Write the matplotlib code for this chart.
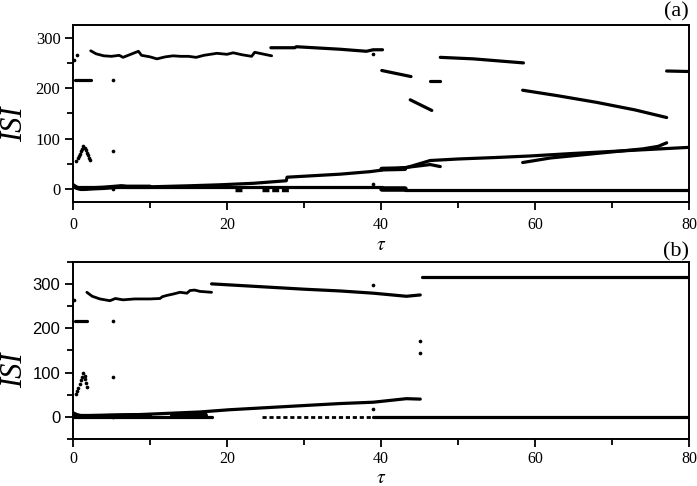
import matplotlib
matplotlib.use("Agg")
import matplotlib.pyplot as plt
from matplotlib.ticker import MultipleLocator

plt.rcParams["mathtext.fontset"] = "stix"

# ---------------- Panel (a) data ----------------
a_top1_tau = [2.3, 3.0, 3.5, 4.0, 5.0, 6.0, 6.5, 7.0, 8.0, 8.5, 8.9, 10.0, 10.9, 12.0, 13.0, 14.0, 15.0, 16.0, 17.0, 18.7, 20.0, 20.8, 22.0, 23.2, 23.6, 25.8]
a_top1_isi = [274, 268, 266, 264, 263, 265, 261, 264, 270, 273, 265, 262, 258, 262, 264, 263, 263, 261, 265, 269, 267, 270, 266, 263, 271, 264]
a_top2_tau = [25.7, 28.8, 29.0, 34.7, 38.1, 39.0, 40.2]
a_top2_isi = [280, 280, 282, 277, 273, 276, 276]
a_s3_tau = [40.1, 43.9]
a_s3_isi = [235, 223]
a_s4_tau = [43.8, 46.6]
a_s4_isi = [177, 156]
a_s5_tau = [46.4, 47.7]
a_s5_isi = [214, 214]
a_s6_tau = [47.7, 52.0, 58.5]
a_s6_isi = [261, 258, 250]
a_s7_tau = [58.4, 63.0, 68.0, 73.0, 77.1]
a_s7_isi = [196, 185, 172, 157, 142]
a_s8_tau = [77.1, 80.0]
a_s8_isi = [234, 233]
a_rise_tau = [2.0, 6.0, 10.0, 15.0, 19.1, 23.5, 27.7, 27.8, 34.7, 38.6, 40.1]
a_rise_isi = [3, 4, 5, 7, 9, 12, 17, 24, 30, 35, 38]
a_band_tau = [40.1, 43.1]
a_band_isi = [40, 41]
a_up_tau = [43.1, 46.4]
a_up_isi = [42, 57]
a_low_tau = [42.0, 46.4, 47.7]
a_low_isi = [41, 49, 45]
a_main_tau = [46.4, 50.0, 55.0, 59.4, 65.0, 70.0, 75.0, 80.0]
a_main_isi = [57, 60, 63, 66, 71, 75, 79, 83]
a_br2_tau = [58.4, 62.0, 66.0, 70.0, 74.0, 76.0, 77.1]
a_br2_isi = [53, 62, 68, 74, 80, 85, 92]
a_zero1_tau = [0.0, 40.1]
a_zero1_isi = [4, 4]
a_zband_tau = [40.1, 43.1]
a_zband_isi = [1, 1]
a_zero2_tau = [43.1, 80.0]
a_zero2_isi = [-1, -1]
a_nb_tau = [0.0, 0.5, 1.0, 1.5, 2.5, 4.0, 6.3, 7.0, 8.5, 10.0]
a_nb_isi = [8, 3, 1, 1, 2, 3, 6, 5, 5, 5]
a_dash1_tau = [21.0, 22.0]
a_dash2_tau = [24.5, 28.0]
a_dash_isi = [-1, -1]
a_dot_tau = [0.15, 0.5, 5.2, 5.2, 38.9, 39.0, 5.2]
a_dot_isi = [255, 265, 216, 76, 268, 10, 0]
a_215_tau = [0.3, 2.3]
a_215_isi = [216, 216]
a_tri_tau = [0.45, 0.6, 0.75, 0.9, 1.05, 1.2, 1.35, 1.5, 1.65, 1.8, 1.95, 2.1, 2.25]
a_tri_isi = [57, 61, 66, 70, 75, 80, 86, 82, 77, 72, 67, 62, 58]

# ---------------- Panel (b) data ----------------
b_top1_tau = [1.8, 2.5, 3.5, 4.8, 5.5, 6.5, 8.0, 10.0, 11.3, 11.6, 12.2, 13.0, 13.9, 14.8, 15.2, 15.8, 16.5, 18.0]
b_top1_isi = [281, 272, 266, 262, 267, 264, 266, 266, 267, 271, 274, 277, 281, 279, 285, 286, 283, 281]
b_top2_tau = [18.0, 25.0, 30.0, 34.7, 39.0, 43.3, 45.1]
b_top2_isi = [300, 293, 288, 284, 279, 272, 275]
b_top3_tau = [45.3, 80.0]
b_top3_isi = [315, 315]
b_rise_tau = [1.3, 2.0, 7.8, 16.5, 20.3, 29.5, 34.7, 39.0, 43.3, 45.1]
b_rise_isi = [0, 2, 4.5, 11, 16, 25, 30, 33, 41, 40]
b_zero1_tau = [0.0, 18.0]
b_zero1_isi = [0, 0]
b_zdash_tau = [24.5, 39.0]
b_zdash_isi = [0, 0]
b_zero2_tau = [39.0, 80.0]
b_zero2_isi = [0, 0]
b_zband_tau = [13.0, 17.0]
b_zband_isi = [4, 4]
b_nb_tau = [0.0, 0.5, 1.0, 2.0, 5.0, 8.0, 10.0]
b_nb_isi = [8, 4, 2, 2, 3, 4, 4]
b_dot_tau = [0.1, 5.2, 5.2, 39.0, 39.0, 45.1, 45.1, 5.2]
b_dot_isi = [263, 216, 91, 298, 17, 170, 144, 0]
b_215_tau = [0.3, 1.8]
b_215_isi = [216, 216]
b_tri_tau = [0.4, 0.55, 0.7, 0.85, 1.0, 1.15, 1.34, 1.5, 1.6, 1.75, 1.85]
b_tri_isi = [51, 58, 66, 74, 82, 91, 100, 92, 85, 76, 68]

x_ticks = [0, 20, 40, 60, 80]
y_ticks = [0, 100, 200, 300]

K = "black"
fig = plt.figure(figsize=(6.97, 4.86), dpi=100)
axa = fig.add_axes([0.1047, 0.5844, 0.8838, 0.3642])
axb = fig.add_axes([0.1047, 0.0967, 0.8838, 0.3648])


def line(ax, t, v, lw=2.3, ls="-"):
    ax.plot(t, v, color=K, lw=lw, ls=ls, solid_capstyle="round")


def dots(ax, t, v, s=7):
    ax.scatter(t, v, s=s, color=K, linewidths=0, zorder=3)


# panel (a)
line(axa, a_top1_tau, a_top1_isi, lw=2.0)
line(axa, a_top2_tau, a_top2_isi)
for t, v in [(a_s3_tau, a_s3_isi), (a_s4_tau, a_s4_isi), (a_s5_tau, a_s5_isi),
             (a_s6_tau, a_s6_isi), (a_s7_tau, a_s7_isi), (a_s8_tau, a_s8_isi),
             (a_rise_tau, a_rise_isi), (a_up_tau, a_up_isi), (a_low_tau, a_low_isi),
             (a_main_tau, a_main_isi), (a_br2_tau, a_br2_isi),
             (a_zero1_tau, a_zero1_isi), (a_zero2_tau, a_zero2_isi),
             (a_215_tau, a_215_isi)]:
    line(axa, t, v)
line(axa, a_band_tau, a_band_isi, lw=3.5)
line(axa, a_zband_tau, a_zband_isi, lw=4.0)
line(axa, a_nb_tau, a_nb_isi, lw=3.2)
line(axa, a_dash1_tau, a_dash_isi, lw=2.5, ls=(0, (2, 0.8)))
line(axa, a_dash2_tau, a_dash_isi, lw=2.5, ls=(0, (2, 0.8)))
dots(axa, a_dot_tau, a_dot_isi)
dots(axa, a_tri_tau, a_tri_isi)

# panel (b)
line(axb, b_top1_tau, b_top1_isi, lw=2.0)
for t, v in [(b_top2_tau, b_top2_isi), (b_top3_tau, b_top3_isi),
             (b_rise_tau, b_rise_isi), (b_zero1_tau, b_zero1_isi),
             (b_zero2_tau, b_zero2_isi), (b_215_tau, b_215_isi)]:
    line(axb, t, v)
line(axb, b_zband_tau, b_zband_isi, lw=5.0)
line(axb, b_nb_tau, b_nb_isi, lw=3.0)
line(axb, b_zdash_tau, b_zdash_isi, lw=2.0, ls=(0, (1.5, 1.0)))
dots(axb, b_dot_tau, b_dot_isi)
dots(axb, b_tri_tau, b_tri_isi)

serif = "Liberation Serif"
sans = "Liberation Sans"
for ax, ylim, yfont, xpad in [(axa, (-25, 325), serif, 4.5), (axb, (-50, 350), sans, 2.5)]:
    ax.set_xlim(0, 80)
    ax.set_ylim(*ylim)
    ax.set_xticks(x_ticks)
    ax.set_yticks(y_ticks)
    ax.xaxis.set_minor_locator(MultipleLocator(10))
    ax.yaxis.set_minor_locator(MultipleLocator(50))
    ax.tick_params(which="both", direction="out", top=False, right=False, width=1.3)
    ax.tick_params(which="major", length=6)
    ax.tick_params(which="minor", length=4)
    ax.tick_params(axis="x", pad=xpad)
    ax.tick_params(axis="y", pad=3)
    for lab in ax.get_xticklabels():
        lab.set_fontfamily(serif)
        lab.set_fontsize(11.5)
    for lab in ax.get_yticklabels():
        lab.set_fontfamily(yfont)
        lab.set_fontsize(12)
    for sp in ax.spines.values():
        sp.set_linewidth(1.4)

# axis titles
fig.text(15 / 697, 1 - 124 / 486, "ISI", fontfamily=serif, fontstyle="italic",
         fontsize=22, rotation=90, ha="center", va="center")
fig.text(15 / 697, 1 - 370 / 486, "ISI", fontfamily=serif, fontstyle="italic",
         fontsize=22, rotation=90, ha="center", va="center")
fig.text(381 / 697, 1 - 244 / 486, r"$\tau$", fontsize=14, ha="center", va="center")
fig.text(381 / 697, 1 - 477 / 486, r"$\tau$", fontsize=14, ha="center", va="center")
axa.text(1.0, 1.02, "(a)", transform=axa.transAxes, ha="right", va="bottom",
         fontfamily=serif, fontsize=16)
axb.text(1.0, 1.0, "(b)", transform=axb.transAxes, ha="right", va="bottom",
         fontfamily=serif, fontsize=16)

fig.savefig("out.png", dpi=100)
